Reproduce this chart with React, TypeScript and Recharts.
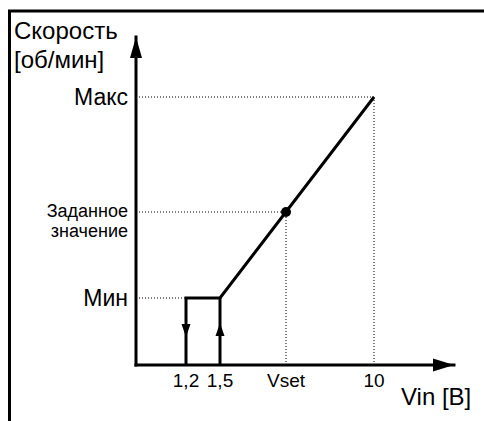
import React from 'react';
import { LineChart, Line, XAxis, YAxis, ReferenceLine, ReferenceDot, Customized } from 'recharts';

// schematic positions (axis units)
const xTickPos = [50, 84, 150, 238];
const xTickLabels = ['1,2', '1,5', 'Vset', '10'];
const yTickPos = [67, 153, 268];
const yTickLabels = ['Мин', 'Заданное значение', 'Макс'];
const xMax = 318;
const yMax = 328;

const risePath = [
  { x: 50, y: 0 },
  { x: 50, y: 67 },
  { x: 84, y: 67 },
  { x: 238, y: 268 },
];
const upPath = [
  { x: 84, y: 0 },
  { x: 84, y: 67 },
];
const arrowDownAt = { x: 50, y: 35 };
const arrowUpAt = { x: 84, y: 35 };
const setPoint = { x: 150, y: 153 };
const maxPoint = { x: 238, y: 268 };

const FONT = '"Liberation Sans", Arial, sans-serif';

const YTick = (props: any) => {
  const { y, payload } = props;
  const idx = yTickPos.indexOf(payload.value);
  const label = yTickLabels[idx] ?? '';
  if (label === 'Заданное значение') {
    return (
      <text x={128} y={y + 5} textAnchor="end" fontSize={18} fontFamily={FONT} fill="#000">
        <tspan x={128} dy={0}>Заданное</tspan>
        <tspan x={128} dy={20}>значение</tspan>
      </text>
    );
  }
  return (
    <text x={128} y={y + 8} textAnchor="end" fontSize={23} fontFamily={FONT} fill="#000">
      {label}
    </text>
  );
};

const XTick = (props: any) => {
  const { x, payload } = props;
  const idx = xTickPos.indexOf(payload.value);
  return (
    <text x={x} y={387} textAnchor="middle" fontSize={19} fontFamily={FONT} fill="#000">
      {xTickLabels[idx] ?? ''}
    </text>
  );
};

const UpArrowY = (p: any) => (
  <path d={`M ${p.cx} ${p.cy} L ${p.cx - 6} ${p.cy + 21} L ${p.cx + 6} ${p.cy + 21} Z`} fill="#000" />
);
const RightArrowX = (p: any) => (
  <path d={`M ${p.cx} ${p.cy} L ${p.cx - 21} ${p.cy - 6.5} L ${p.cx - 21} ${p.cy + 6.5} Z`} fill="#000" />
);
const DownMark = (p: any) => (
  <path d={`M ${p.cx} ${p.cy + 7} L ${p.cx - 4.5} ${p.cy - 6} L ${p.cx + 4.5} ${p.cy - 6} Z`} fill="#000" />
);
const UpMark = (p: any) => (
  <path d={`M ${p.cx} ${p.cy - 7} L ${p.cx - 4.5} ${p.cy + 6} L ${p.cx + 4.5} ${p.cy + 6} Z`} fill="#000" />
);

const Decor = () => (
  <g>
    <path d="M 9.5 421 L 9.5 11 L 484 11" stroke="#000" strokeWidth={3} fill="none" />
    <text x={14} y={39} fontSize={24} fontFamily={FONT} fill="#000">Скорость</text>
    <text x={14} y={68} fontSize={24} fontFamily={FONT} fill="#000">[об/мин]</text>
    <text x={401} y={405} fontSize={24} fontFamily={FONT} fill="#000">Vin [B]</text>
  </g>
);

const dot = { stroke: '#000', strokeWidth: 1, strokeDasharray: '1 2' };

export default function App() {
  return (
    <div style={{ position: 'absolute', left: 0, top: 0, background: '#fff' }}>
      <LineChart width={484} height={421} margin={{ top: 37, right: 30, bottom: 0, left: 0 }}>
        <XAxis
          type="number"
          dataKey="x"
          domain={[0, xMax]}
          ticks={xTickPos}
          tick={<XTick />}
          tickLine={false}
          height={56}
          axisLine={{ stroke: '#000', strokeWidth: 3, strokeLinecap: 'square' } as any}
          allowDataOverflow
        />
        <YAxis
          type="number"
          dataKey="y"
          domain={[0, yMax]}
          ticks={yTickPos}
          tick={<YTick />}
          tickLine={false}
          width={136}
          axisLine={{ stroke: '#000', strokeWidth: 3, strokeLinecap: 'square' } as any}
          allowDataOverflow
        />
        <ReferenceLine segment={[{ x: 0, y: maxPoint.y }, { x: maxPoint.x, y: maxPoint.y }]} {...dot} />
        <ReferenceLine segment={[{ x: maxPoint.x, y: 0 }, { x: maxPoint.x, y: maxPoint.y }]} {...dot} />
        <ReferenceLine segment={[{ x: 0, y: setPoint.y }, { x: setPoint.x, y: setPoint.y }]} {...dot} />
        <ReferenceLine segment={[{ x: setPoint.x, y: 0 }, { x: setPoint.x, y: setPoint.y }]} {...dot} />
        <ReferenceLine segment={[{ x: 0, y: 67 }, { x: 50, y: 67 }]} {...dot} />
        <Line data={risePath} dataKey="y" stroke="#000" strokeWidth={3} dot={false} isAnimationActive={false} strokeLinejoin="miter" />
        <Line data={upPath} dataKey="y" stroke="#000" strokeWidth={3} dot={false} isAnimationActive={false} />
        <ReferenceDot x={0} y={yMax} r={0} shape={<UpArrowY />} />
        <ReferenceDot x={xMax} y={0} r={0} shape={<RightArrowX />} />
        <ReferenceDot x={arrowDownAt.x} y={arrowDownAt.y} r={0} shape={<DownMark />} />
        <ReferenceDot x={arrowUpAt.x} y={arrowUpAt.y} r={0} shape={<UpMark />} />
        <ReferenceDot x={setPoint.x} y={setPoint.y} r={5} fill="#000" stroke="none" />
        <Customized component={Decor} />
      </LineChart>
    </div>
  );
}
